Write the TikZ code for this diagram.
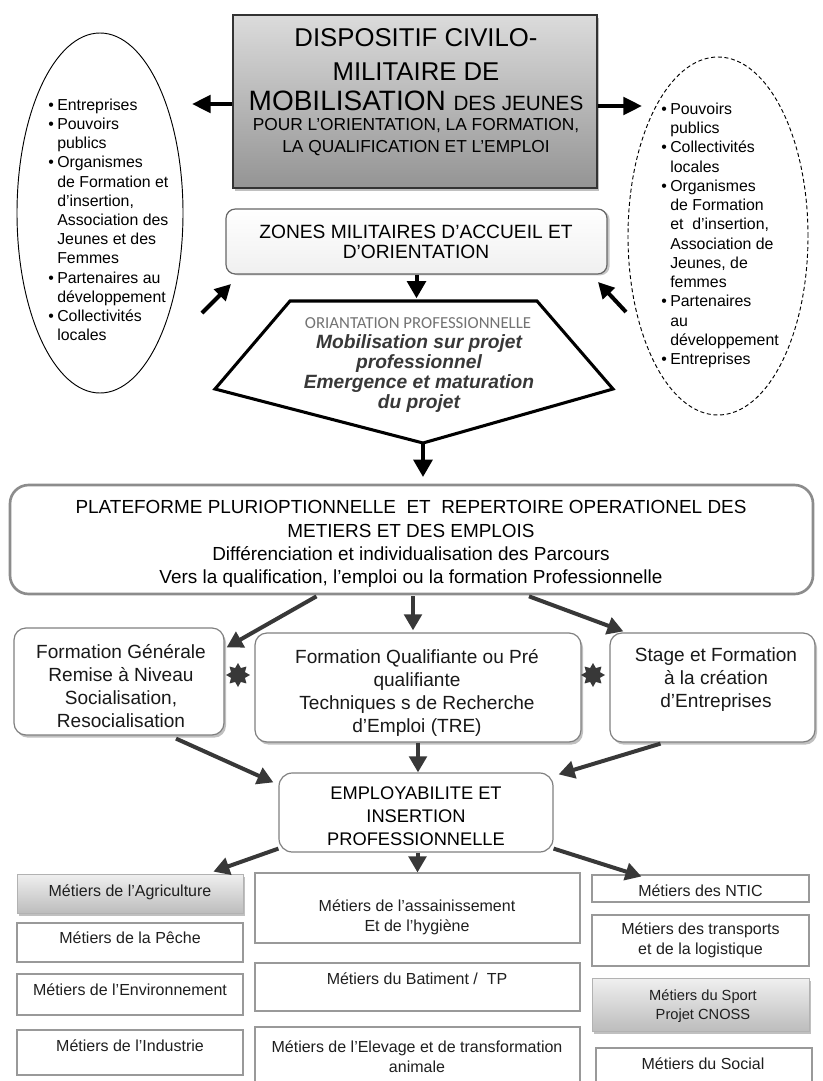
\documentclass[tikz,border=0pt]{standalone}
\usepackage{fontspec}
\setmainfont{Liberation Sans}
\newfontfamily\carlito{Carlito}
\usetikzlibrary{arrows.meta,shapes.geometric,shadows,fit,calc}
\newcommand\fs[2]{\fontsize{#1}{#2}\selectfont}
\newcommand\bul{\makebox[6.75pt][l]{•}}
\newcommand\ind{\hspace*{6.75pt}}
\begin{document}
\begin{tikzpicture}[x=0.75pt,y=-0.75pt,
  bigarr/.style={line width=3pt,-{Triangle[length=14pt,width=13pt]}},
  midarr/.style={line width=3pt,draw=black!78,color=black!78,-{Triangle[length=12pt,width=13pt]}},
  shad/.style={drop shadow={shadow xshift=1.5pt,shadow yshift=-2pt,fill=black!45,opacity=0.55}},
  lst/.style={align=left,inner sep=0pt,anchor=north west},
  mbox/.style={draw=black!40,line width=0.8pt,fill=white,inner sep=0pt},
  gbox/.style={draw=black!30,line width=0.6pt,inner sep=0pt,top color=black!6,bottom color=black!26,shad},
  rbox/.style={draw=black!50,line width=0.9pt,rounded corners=9pt,fill=white,inner sep=0pt,shad},
  mtxt/.style={font=\fs{12}{15},align=center,inner sep=0pt,text=black!88},
  btxt/.style={font=\fs{14.3}{17.25},align=center,inner sep=0pt,text=black!90},
  ttxt/.style={anchor=base,inner sep=0pt},
  starnode/.style={star,star points=8,star point ratio=1.6,fill=black!78,minimum size=18pt,inner sep=0pt}
]
\useasboundingbox (0,0) rectangle (822,1081);
\clip (0,0) rectangle (822,1081);

% ---------- top box ----------
\node[fit={(233,15) (597,188)},inner sep=0pt,draw=black!80,line width=1.5pt,
      top color=black!14,bottom color=black!42,shad] (top) {};
\node[ttxt,font=\fs{19.3}{20}] (t1) at (416,47) {DISPOSITIF CIVILO-};
\node[ttxt,font=\fs{19.3}{20}] (t2) at (416,80) {MILITAIRE DE};
\node[ttxt] (t3) at (416,110) {\fs{21}{22}MOBILISATION \fs{15.5}{16}DES JEUNES};
\node[ttxt,font=\fs{13}{15}] (t4) at (416,130) {POUR L’ORIENTATION, LA FORMATION,};
\node[ttxt,font=\fs{13}{15}] (t5) at (416,152) {LA QUALIFICATION ET L’EMPLOI};

% ---------- ellipses ----------
\node[draw,ellipse,line width=0.7pt,minimum width=124.5pt,minimum height=270pt,inner sep=0pt] (L) at (100,213) {};
\node[draw,ellipse,densely dashed,line width=0.7pt,minimum width=135pt,minimum height=268.5pt,inner sep=0pt] (R) at (718,236) {};

\node[lst,font=\fs{11.9}{14.4}] (Ltxt) at (48,98.5) {\bul Entreprises\\
\bul Pouvoirs\\
\ind publics\\
\bul Organismes\\
\ind de Formation et\\
\ind d’insertion,\\
\ind Association des\\
\ind Jeunes et des\\
\ind Femmes\\
\bul Partenaires au\\
\ind développement\\
\bul Collectivités\\
\ind locales};

\node[lst,font=\fs{11.9}{14.45}] (Rtxt) at (661,102.5) {\bul Pouvoirs\\
\ind publics\\
\bul Collectivités\\
\ind locales\\
\bul Organismes\\
\ind de Formation\\
\ind et\ \ d’insertion,\\
\ind Association de\\
\ind Jeunes, de\\
\ind femmes\\
\bul Partenaires\\
\ind au\\
\ind développement\\
\bul Entreprises};

\coordinate (la) at (192,104);
\coordinate (ra) at (642,106);
\draw[bigarr] (top.west |- la) -- (la);
\draw[bigarr] (top.east |- ra) -- (ra);

% ---------- zones ----------
\node[fit={(226,209) (607,274)},inner sep=0pt,draw=black!60,line width=0.9pt,rounded corners=7pt,
      top color=white,bottom color=black!6,drop shadow={shadow xshift=2pt,shadow yshift=-1pt,fill=black!45,opacity=0.5}] (zone) {};
\node[font=\fs{14.4}{15},align=center,inner sep=0pt] (zoneT) at (416,242) {ZONES MILITAIRES D’ACCUEIL ET\\D’ORIENTATION};

\coordinate (a1s) at (202,313);
\coordinate (a1e) at (231,284);
\coordinate (a2s) at (626,312);
\coordinate (a2e) at (598,282);
\draw[line width=3pt,-{Triangle[length=12pt,width=12pt]}] (a1s) -- (a1e);
\draw[line width=3pt,-{Triangle[length=12pt,width=12pt]}] (a2s) -- (a2e);

% ---------- pentagon ----------
\coordinate (pt) at (417,301);
\coordinate (pb) at (423,443);
\draw[line width=2.3pt,line join=miter,fill=white] (290,301) -- (537,301) -- (613,389) -- (pb) -- (215,389) -- cycle;
\draw[line width=3pt,-{Triangle[length=13pt,width=14pt]},shorten >=2pt] (zone.south) -- (zone.south |- pt);
\node[ttxt,font=\carlito\fs{12.6}{14},text=black!55] (oriT) at (418,328) {ORIANTATION PROFESSIONNELLE};
\node[font=\bfseries\itshape\fs{14.4}{15},text=black!78,align=center,inner sep=0pt,anchor=north] (mobT) at (419,334.5)
  {Mobilisation sur projet\\professionnel\\Emergence et maturation\\du projet};

% ---------- plateforme ----------
\node[fit={(10,485) (813,594)},inner sep=0pt,draw=black!45,line width=2pt,rounded corners=14pt,fill=white] (plat) {};
\node[font=\fs{14.2}{17.5},align=center,inner sep=0pt,anchor=north] (platT) at (411,500.5)
  {PLATEFORME PLURIOPTIONNELLE\ \ ET\ \ REPERTOIRE OPERATIONEL DES\\METIERS ET DES EMPLOIS\\Différenciation et individualisation des Parcours\\Vers la qualification, l’emploi ou la formation Professionnelle};
\draw[line width=3pt,-{Triangle[length=13pt,width=14pt]},shorten >=5pt] (pb) -- (pb |- plat.north);

% ---------- middle row ----------
\node[rbox,fit={(14,628) (224,735)}] (fg) {};
\node[rbox,fit={(255,633) (581,742)}] (fq) {};
\node[rbox,fit={(610,633) (815,742)}] (sf) {};
\node[btxt] (fgT) at (121,686) {Formation Générale\\Remise à Niveau\\Socialisation,\\Resocialisation};
\node[btxt] (fqT) at (417,692.5) {Formation Qualifiante ou Pré\\qualifiante\\Techniques s de Recherche\\d’Emploi (TRE)};
\node[btxt] (sfT) at (716,680) {Stage et Formation\\à la création\\d’Entreprises};
\node[starnode] (s1) at (238,675) {};
\node[starnode] (s2) at (593,675) {};

\draw[midarr] ($(plat.south)+(-95,1)$) -- ($(fg.north east)+(2,20)$);
\draw[midarr] ($(plat.south)+(1.5,1)$) -- ($(plat.south |- fq.north)+(1.5,-2)$);
\draw[midarr] ($(plat.south)+(117.5,1)$) -- ($(sf.north west)+(14,-1)$);

% ---------- employabilite ----------
\node[fit={(279,773) (553,852)},inner sep=0pt,draw=black!50,line width=0.9pt,rounded corners=10pt,fill=white] (emp) {};
\node[font=\fs{13.7}{17.25},align=center,inner sep=0pt] (empT) at (416,816) {EMPLOYABILITE ET\\INSERTION\\PROFESSIONNELLE};

\draw[midarr] ($(fg.south)+(57,3)$) -- ($(emp.north west)+(-5,10)$);
\draw[midarr] (fq.south) -- (fq.south |- emp.north);
\draw[midarr] ($(sf.south)+(-52,1)$) -- ($(emp.north east)+(5,2)$);

% ---------- bottom boxes ----------
\node[gbox,fit={(17,874) (243,913)}] (agri) {};
\node[mbox,fit={(17,923) (243,962)}] (peche) {};
\node[mbox,fit={(17,974) (243,1015)}] (env) {};
\node[mbox,fit={(17,1030) (243,1075)}] (ind) {};
\node[mbox,fit={(255,873) (580,943)}] (ass) {};
\node[mbox,fit={(255,963) (580,1011)}] (bat) {};
\node[mbox,fit={(255,1027) (580,1095)}] (ele) {};
\node[mbox,fit={(592,875) (809,902)}] (ntic) {};
\node[mbox,fit={(592,915) (809,966)}] (trans) {};
\node[gbox,fit={(592,978) (809,1031)}] (sport) {};
\node[mbox,fit={(596,1048) (812,1095)}] (soc) {};

\node[mtxt] (agriT) at (130,892) {Métiers de l’Agriculture};
\node[mtxt] (pecheT) at (130,938) {Métiers de la Pêche};
\node[mtxt] (envT) at (130,990) {Métiers de l’Environnement};
\node[mtxt] (indT) at (130,1046) {Métiers de l’Industrie};
\node[mtxt] (assT) at (417,917) {Métiers de l’assainissement\\Et de l’hygiène};
\node[mtxt] (batT) at (417,979) {Métiers du Batiment /\ \ TP};
\node[mtxt] (eleT) at (417,1056.5) {Métiers de l’Elevage et de transformation\\animale};
\node[mtxt] (nticT) at (700.5,891) {Métiers des NTIC};
\node[mtxt] (transT) at (700.5,940.5) {Métiers des transports\\et de la logistique};
\node[mtxt,font=\fs{11}{14.25}] (sportT) at (703,1006.5) {Métiers du Sport\\Projet CNOSS};
\node[mtxt] (socT) at (703,1064) {Métiers du Social};

\draw[midarr] ($(emp.south west)+(0,-4)$) -- ($(agri.north east)+(-30,-2)$);
\draw[midarr] (emp.south -| ass.north) -- (ass.north);
\draw[midarr] ($(emp.south east)+(0,-4)$) -- ($(ntic.north west)+(50,2)$);
\end{tikzpicture}
\end{document}
